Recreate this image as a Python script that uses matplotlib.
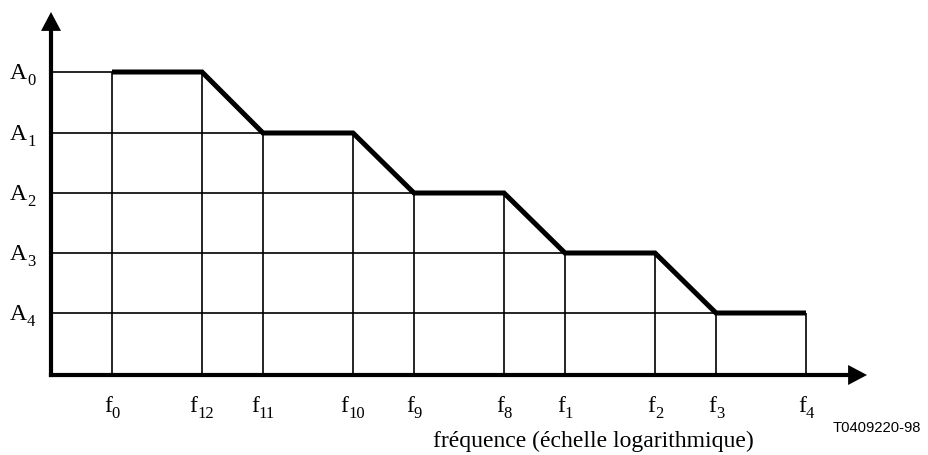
import matplotlib
matplotlib.use("Agg")
import matplotlib.pyplot as plt
from matplotlib.patches import FancyArrowPatch
from matplotlib.transforms import offset_copy

SERIF = 'Liberation Serif'

# Frequency breakpoints (positions along log-frequency axis) and labels
freq_main = ["f"] * 10
freq_sub = ["0", "12", "11", "10", "9", "8", "1", "2", "3", "4"]
freq_pos = [61, 151, 212, 302, 363, 453, 514, 604, 665, 755]
# Amplitude levels
amp_sub = ["0", "1", "2", "3", "4"]
amp_vals = [303, 242, 182, 122, 62]
# Template curve: amplitude level index at each frequency breakpoint
curve_level = [0, 0, 1, 1, 2, 2, 3, 3, 4, 4]

fig = plt.figure(figsize=(9.29, 4.55), dpi=100)
ax = fig.add_axes([0, 0, 1, 1])
ax.set_xlim(-51, 878)
ax.set_ylim(-80, 375)
ax.axis('off')

grid_kw = dict(color='black', lw=1.2, solid_capstyle='butt', zorder=1)
# horizontal grid lines: from axis to end of plateau for each level
for i, a in enumerate(amp_vals):
    xend = freq_pos[2 * i + 1]
    ax.plot([0, xend], [a, a], **grid_kw)
# vertical grid lines
for f, lvl in zip(freq_pos, curve_level):
    ax.plot([f, f], [0, amp_vals[lvl]], **grid_kw)

# template curve
cy = [amp_vals[l] for l in curve_level]
ax.plot(freq_pos, cy, color='black', lw=3.6, solid_joinstyle='miter', solid_capstyle='butt', zorder=3)

# axes with arrows
ax.plot([0, 0], [0, 345], color='black', lw=3.0, solid_capstyle='projecting', zorder=4)
ax.plot([0, 800], [0, 0], color='black', lw=3.0, solid_capstyle='projecting', zorder=4)
for start, end in [((0, 330), (0, 363)), ((780, 0), (816, 0))]:
    arr = FancyArrowPatch(start, end, arrowstyle='-|>,head_length=0.68,head_width=0.36',
                          mutation_scale=20, color='black', lw=0, shrinkA=0, shrinkB=0, zorder=5)
    ax.add_patch(arr)

# labels with subscripts
pending = []
def sublabel(x, y, main, sub, align):
    t = ax.text(x, y, main, fontsize=17, family=SERIF, va='baseline', ha='left')
    s = ax.text(x, y, sub, fontsize=12, family=SERIF, va='baseline', ha='left')
    pending.append((x, y, t, s, align))

for s_, a in zip(amp_sub, amp_vals):
    sublabel(-41, a - 7, "A", s_, 'left')
for m, s_, f in zip(freq_main, freq_sub, freq_pos):
    sublabel(f, -37, m, s_, 'center')

fig.canvas.draw()
r = fig.canvas.get_renderer()
for x, y, t, s, align in pending:
    wm = t.get_window_extent(r).width
    ws = s.get_window_extent(r).width
    if align == 'center':
        x0 = -(wm + ws) / 2
    else:
        x0 = 0
    t.set_transform(offset_copy(ax.transData, fig=fig, x=x0, y=0, units='dots'))
    s.set_transform(offset_copy(ax.transData, fig=fig, x=x0 + wm, y=-6, units='dots'))

ax.text(542, -66, "fréquence (échelle logarithmique)", fontsize=17,
        family=SERIF, ha='center', va='center')
ax.text(826, -53, "T0409220-98", fontsize=10.6, family='Liberation Sans', ha='center', va='center')

fig.savefig("out.png", dpi=100)
